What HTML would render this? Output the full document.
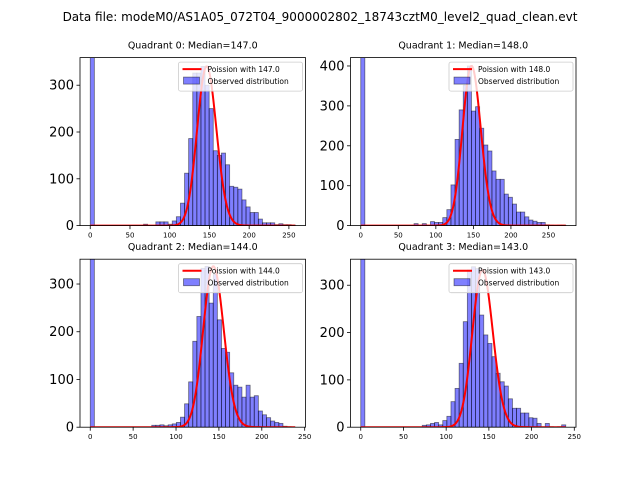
<!DOCTYPE html>
<html><head><meta charset="utf-8">
<style>
html,body{margin:0;padding:0;background:#fff;}
svg{display:block;font-family:"DejaVu Sans","Liberation Sans",sans-serif;}
</style></head>
<body>
<svg id="fig" width="640" height="480" viewBox="0 0 640 480" xmlns="http://www.w3.org/2000/svg">
<rect width="640" height="480" fill="#fff"/>
<text x="320" y="21" font-size="12" text-anchor="middle">Data file: modeM0/AS1A05_072T04_9000002802_18743cztM0_level2_quad_clean.evt</text>
</svg>
<script>
const medians = [147.0, 148.0, 144.0, 143.0];
const maxValues = [258, 273, 239, 240];
const yMaxes = [359, 421, 352, 355];
const poissonPeaks = [340, 400, 337, 332];
const yTicks0 = [0, 100, 200, 300];
const yTicks1 = [0, 100, 200, 300, 400];
const yTicks2 = [0, 100, 200, 300];
const yTicks3 = [0, 100, 200, 300];
const xTicks = [0, 50, 100, 150, 200, 250];
const counts0 = [2000,0,0,0,0,0,0,0,0,0,0,0,0,3,0,0,8,8,8,3,10,19,48,112,186,326,326,340,300,250,160,150,155,130,84,82,78,55,40,28,28,14,6,6,6,2,4,2,2,1];
const counts1 = [2000,0,0,0,0,0,0,0,0,0,0,0,0,5,0,5,0,10,8,8,20,40,102,216,290,352,400,287,298,244,202,187,137,116,116,79,71,54,34,34,22,14,11,8,8,2,1,0,1,1];
const counts2 = [2000,0,0,0,0,0,0,0,0,0,0,0,0,0,0,4,4,5,3,5,7,10,21,49,95,180,232,333,337,260,320,225,165,157,114,88,84,63,88,63,66,34,26,20,13,10,8,2,1,0];
const counts3 = [2000,0,0,0,0,0,0,0,0,0,0,0,0,0,0,4,5,8,10,5,14,23,54,82,135,223,332,339,335,237,195,177,149,114,96,87,60,40,40,30,30,20,19,8,0,8,1,0,1,5];

const allCounts = [counts0, counts1, counts2, counts3];
const allYTicks = [yTicks0, yTicks1, yTicks2, yTicks3];
const NS = "http://www.w3.org/2000/svg";
const svg = document.getElementById('fig');
function mk(tag, attrs, parent){
  const e = document.createElementNS(NS, tag);
  for (const k in attrs) e.setAttribute(k, attrs[k]);
  (parent||svg).appendChild(e);
  return e;
}
function lgamma(z){
  if (z < 7){ let p=1; while(z<7){p*=z; z+=1;} return lgamma(z)-Math.log(p); }
  return (z-0.5)*Math.log(z)-z+0.5*Math.log(2*Math.PI)+1/(12*z)-1/(360*z*z*z);
}
function logPmf(k, lam){ return k*Math.log(lam)-lam-lgamma(k+1); }

const boxes = [[80,57.6],[350.5,57.6],[80,259.2],[350.5,259.2]];
const AW = 225.5, AH = 168;
const defs = mk('defs', {});
for (let q=0;q<4;q++){
  const [L,T] = boxes[q];
  const counts = allCounts[q];
  const maxV = maxValues[q];
  const xmin = -0.05*maxV, xmax = 1.05*maxV;
  const sx = v => L + (v-xmin)/(xmax-xmin)*AW;
  const sy = v => T + AH - v/yMaxes[q]*AH;
  const g = mk('g', {});
  
  
  const cp = mk('clipPath', {id:'clip'+q}, defs);
  mk('rect', {x:L, y:T, width:AW, height:AH}, cp);
  const title = mk('text', {x:L+AW/2, y:T-9, 'font-size':9.5, 'text-anchor':'middle'}, g);
  title.textContent = 'Quadrant ' + q + ': Median=' + medians[q].toFixed(1);
  
  
  const plot = mk('g', {'clip-path':'url(#clip'+q+')'}, g);
  const bw = maxV/counts.length;
  for (let i=0;i<counts.length;i++){
    if (counts[i] <= 0) continue;
    const x0 = sx(i*bw), x1 = sx((i+1)*bw);
    const r = mk('rect', {x:x0, y:sy(counts[i]), width:x1-x0, height:sy(0)-sy(counts[i]),
      fill:'rgba(0,0,255,0.5)', stroke:'rgba(0,0,0,0.5)', 'stroke-width':0.8}, plot);
    
    
  }
  const lam = medians[q];
  const peakLog = logPmf(Math.floor(lam), lam);
  let d = '';
  for (let k=0;k<=maxV;k++){
    const v = poissonPeaks[q]*Math.exp(logPmf(k,lam)-peakLog);
    d += (k? 'L':'M') + sx(k).toFixed(2) + ' ' + sy(v).toFixed(2);
  }
  const line = mk('path', {d:d, fill:'none', stroke:'red', 'stroke-width':2}, plot);
  
  
  const frame = mk('rect', {x:L, y:T, width:AW, height:AH, fill:'none', stroke:'#000', 'stroke-width':0.8}, g);
  
  
  for (const t of allYTicks[q]){
    const y = sy(t);
    mk('line', {x1:L-3.5, x2:L, y1:y, y2:y, stroke:'#000', 'stroke-width':0.8}, g);
    const tl = mk('text', {x:L-6, y:y+4.5, 'font-size':13, 'text-anchor':'end'}, g);
    tl.textContent = t;
    
    
  }
  for (const t of xTicks){
    if (t > xmax + 0.5) continue;
    const x = sx(t);
    mk('line', {x1:x, x2:x, y1:T+AH, y2:T+AH+3.5, stroke:'#000', 'stroke-width':0.8}, g);
    const tl = mk('text', {x:x, y:T+AH+12, 'font-size':7, 'text-anchor':'middle'}, g);
    tl.textContent = t;
    
    
  }
  const R = L+AW;
  const lg = mk('g', {}, g);
  
  
  mk('rect', {x:R-127, y:T+4.5, width:124, height:29, rx:2, fill:'rgba(255,255,255,0.8)', stroke:'#ccc', 'stroke-width':0.8}, lg);
  mk('line', {x1:R-123, x2:R-104, y1:T+11.5, y2:T+11.5, stroke:'red', 'stroke-width':2}, lg);
  const t1 = mk('text', {x:R-98, y:T+14.5, 'font-size':7.5}, lg);
  t1.textContent = 'Poission with ' + medians[q].toFixed(1);
  
  
  mk('rect', {x:R-122, y:T+19.5, width:16, height:7, fill:'rgba(0,0,255,0.5)', stroke:'rgba(0,0,0,0.5)', 'stroke-width':0.8}, lg);
  const t2 = mk('text', {x:R-98, y:T+26.5, 'font-size':7.5}, lg);
  t2.textContent = 'Observed distribution';
  
  
}
</script>
</body></html>
